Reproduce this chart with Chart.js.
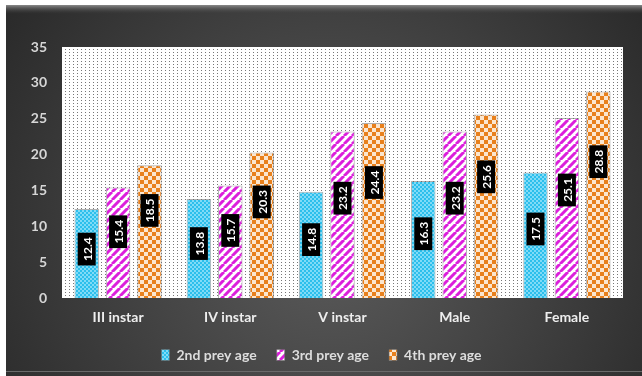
<!DOCTYPE html>
<html>
<head>
<meta charset="utf-8">
<script src="https://cdn.jsdelivr.net/npm/chart.js@4.4.0/dist/chart.umd.min.js"></script>
<style>
  html, body { margin: 0; padding: 0; background: #fff; }
</style>
</head>
<body>
<canvas id="myChart" width="642" height="376"></canvas>
<script>
// chart data
var categories = ['III instar', 'IV instar', 'V instar', 'Male', 'Female'];
var seriesNames = ['2nd prey age', '3rd prey age', '4th prey age'];
var prey2nd = [12.4, 13.8, 14.8, 16.3, 17.5];
var prey3rd = [15.4, 15.7, 23.2, 23.2, 25.1];
var prey4th = [18.5, 20.3, 24.4, 25.6, 28.8];
var yMin = 0, yMax = 35, yStep = 5;

var FONT = 'Lato';

// small tiles used as fills
function makeTile(w, h, draw) {
    var c = document.createElement('canvas');
    c.width = w; c.height = h;
    var g = c.getContext('2d');
    draw(g, w, h);
    return document.getElementById('myChart').getContext('2d').createPattern(c, 'repeat');
}

var dotsFill = makeTile(4, 3, function (g, w, h) {
    g.fillStyle = '#ffffff'; g.fillRect(0, 0, w, h);
    g.fillStyle = '#777777'; g.fillRect(1, 1, 1, 1);
});

var blueFill = makeTile(4, 4, function (g, w, h) {
    g.fillStyle = '#2cbfec'; g.fillRect(0, 0, w, h);
    g.fillStyle = '#80dbf7';
    g.fillRect(0, 0, 2, 2); g.fillRect(2, 2, 2, 2);
});

var magentaFill = makeTile(8, 8, function (g, w, h) {
    g.fillStyle = '#ffffff'; g.fillRect(0, 0, w, h);
    g.strokeStyle = '#dc1fdc'; g.lineWidth = 3;
    g.beginPath();
    for (var k = -1; k <= 1; k++) {
        g.moveTo(k * 8, 8); g.lineTo(k * 8 + 8, 0);
    }
    g.stroke();
});

var orangeFill = makeTile(8, 8, function (g, w, h) {
    g.fillStyle = '#fbe6cf'; g.fillRect(0, 0, w, h);
    g.fillStyle = '#e8801c';
    g.fillRect(0, 0, 4, 4); g.fillRect(4, 4, 4, 4);
});

// dark panel behind everything
var panelPlugin = {
    id: 'panel',
    beforeDraw: function (chart) {
        var ctx = chart.ctx, W = chart.width, H = chart.height;
        ctx.save();
        ctx.fillStyle = '#ffffff';
        ctx.fillRect(0, 0, W, H);
        var grd = ctx.createRadialGradient(330, 230, 20, 330, 230, 420);
        grd.addColorStop(0, '#5a5a5a');
        grd.addColorStop(1, '#262626');
        ctx.fillStyle = grd;
        ctx.fillRect(6, 5, W - 6, H - 5);
        var top = ctx.createLinearGradient(0, 5, 0, 14);
        top.addColorStop(0, '#8a8a8a');
        top.addColorStop(1, 'rgba(60,60,60,0)');
        ctx.fillStyle = top;
        ctx.fillRect(6, 5, W - 6, 9);
        ctx.fillStyle = '#6a6a6a';
        ctx.fillRect(6, 371, W - 6, 1);
        // plot area
        var a = chart.chartArea;
        ctx.fillStyle = dotsFill;
        ctx.fillRect(a.left, a.top, a.right - a.left, a.bottom - a.top);
        ctx.restore();
    }
};

// black value boxes with rotated text inside the bars
var valueBoxes = {
    id: 'valueBoxes',
    afterDatasetsDraw: function (chart, args, opts) {
        var ctx = chart.ctx;
        var y = chart.scales.y;
        ctx.save();
        ctx.font = 'bold 12px ' + FONT;
        chart.data.datasets.forEach(function (ds, i) {
            var meta = chart.getDatasetMeta(i);
            meta.data.forEach(function (bar, j) {
                var v = ds.data[j];
                var txt = v.toFixed(1);
                var cy = y.getPixelForValue(v * opts.at[i]);
                var tw = ctx.measureText(txt).width;
                var bh = tw + 9, bw = 18;
                ctx.fillStyle = '#000';
                ctx.fillRect(bar.x - bw / 2, cy - bh / 2, bw, bh);
                ctx.save();
                ctx.translate(bar.x, cy);
                ctx.rotate(-Math.PI / 2);
                ctx.fillStyle = '#fff';
                ctx.textAlign = 'center';
                ctx.textBaseline = 'middle';
                ctx.fillText(txt, 0, 1);
                ctx.restore();
            });
        });
        ctx.restore();
    }
};

function series(label, data, fill) {
    return {
        label: label,
        data: data,
        backgroundColor: fill,
        borderColor: 'rgba(110,110,110,0.55)',
        borderWidth: 1,
        barPercentage: 0.78,
        categoryPercentage: 0.84
    };
}

var myChart = new Chart(document.getElementById('myChart').getContext('2d'), {
    type: 'bar',
    data: {
        labels: categories,
        datasets: [
            series(seriesNames[0], prey2nd, blueFill),
            series(seriesNames[1], prey3rd, magentaFill),
            series(seriesNames[2], prey4th, orangeFill)
        ]
    },
    options: {
        responsive: false,
        animation: false,
        layout: { padding: { left: 20, right: 19, top: 47, bottom: 4 } },
        scales: {
            x: {
                grid: { display: false, drawTicks: false },
                border: { display: false },
                ticks: { color: '#eeeeee', font: { family: FONT, size: 14, weight: 'bold' }, padding: 11 },
                afterFit: function (s) { s.height = 30; }
            },
            y: {
                min: yMin, max: yMax,
                grid: { display: false, drawTicks: false },
                border: { display: false },
                ticks: { stepSize: yStep, color: '#d6d6d6', font: { family: FONT, size: 14, weight: 'bold' }, padding: 15 },
                afterFit: function (s) { s.width = 42; }
            }
        },
        plugins: {
            tooltip: { enabled: false },
            legend: {
                position: 'bottom',
                labels: {
                    color: '#dddddd',
                    font: { family: FONT, size: 14, weight: 'bold' },
                    boxWidth: 8,
                    boxHeight: 11,
                    padding: 20
                }
            },
            valueBoxes: { at: [0.55, 0.6, 0.66] }
        }
    },
    plugins: [panelPlugin, valueBoxes]
});
</script>
</body>
</html>
